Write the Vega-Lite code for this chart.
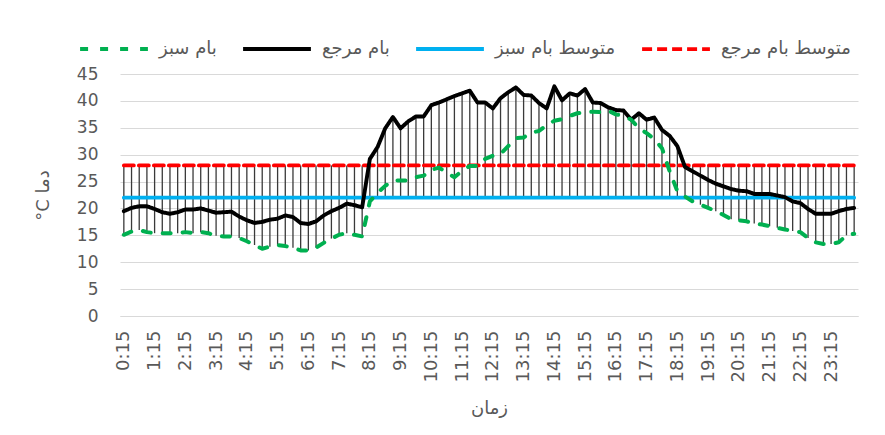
{
  "$schema": "https://vega.github.io/schema/vega-lite/v6.json",
  "width": 738,
  "height": 242,
  "autosize": {"type": "none"},
  "padding": {"left": 120, "top": 74, "right": 27, "bottom": 119},
  "background": "white",
  "config": {"view": {"stroke": null}, "font": "DejaVu Sans"},
  "data": {"values": [
    {"t":"0:15","g":15.1,"b":19.5,"gm":22,"bm":28},
    {"t":"0:30","g":15.7,"b":20.1,"gm":22,"bm":28},
    {"t":"0:45","g":16.0,"b":20.4,"gm":22,"bm":28},
    {"t":"1:00","g":15.6,"b":20.4,"gm":22,"bm":28},
    {"t":"1:15","g":15.4,"b":19.9,"gm":22,"bm":28},
    {"t":"1:30","g":15.4,"b":19.3,"gm":22,"bm":28},
    {"t":"1:45","g":15.4,"b":19.0,"gm":22,"bm":28},
    {"t":"2:00","g":15.4,"b":19.3,"gm":22,"bm":28},
    {"t":"2:15","g":15.6,"b":19.8,"gm":22,"bm":28},
    {"t":"2:30","g":15.4,"b":19.8,"gm":22,"bm":28},
    {"t":"2:45","g":15.6,"b":20.0,"gm":22,"bm":28},
    {"t":"3:00","g":15.4,"b":19.6,"gm":22,"bm":28},
    {"t":"3:15","g":14.9,"b":19.2,"gm":22,"bm":28},
    {"t":"3:30","g":14.8,"b":19.3,"gm":22,"bm":28},
    {"t":"3:45","g":14.8,"b":19.4,"gm":22,"bm":28},
    {"t":"4:00","g":14.5,"b":18.5,"gm":22,"bm":28},
    {"t":"4:15","g":13.9,"b":17.8,"gm":22,"bm":28},
    {"t":"4:30","g":13.2,"b":17.3,"gm":22,"bm":28},
    {"t":"4:45","g":12.5,"b":17.5,"gm":22,"bm":28},
    {"t":"5:00","g":12.9,"b":17.9,"gm":22,"bm":28},
    {"t":"5:15","g":13.2,"b":18.1,"gm":22,"bm":28},
    {"t":"5:30","g":13.0,"b":18.7,"gm":22,"bm":28},
    {"t":"5:45","g":12.7,"b":18.4,"gm":22,"bm":28},
    {"t":"6:00","g":12.2,"b":17.3,"gm":22,"bm":28},
    {"t":"6:15","g":12.2,"b":17.1,"gm":22,"bm":28},
    {"t":"6:30","g":12.7,"b":17.6,"gm":22,"bm":28},
    {"t":"6:45","g":13.6,"b":18.7,"gm":22,"bm":28},
    {"t":"7:00","g":14.4,"b":19.5,"gm":22,"bm":28},
    {"t":"7:15","g":15.1,"b":20.1,"gm":22,"bm":28},
    {"t":"7:30","g":15.4,"b":20.9,"gm":22,"bm":28},
    {"t":"7:45","g":15.1,"b":20.6,"gm":22,"bm":28},
    {"t":"8:00","g":14.8,"b":20.2,"gm":22,"bm":28},
    {"t":"8:15","g":21.3,"b":29.2,"gm":22,"bm":28},
    {"t":"8:30","g":22.9,"b":31.4,"gm":22,"bm":28},
    {"t":"8:45","g":24.2,"b":34.9,"gm":22,"bm":28},
    {"t":"9:00","g":25.2,"b":37.0,"gm":22,"bm":28},
    {"t":"9:15","g":25.2,"b":34.9,"gm":22,"bm":28},
    {"t":"9:30","g":25.2,"b":36.2,"gm":22,"bm":28},
    {"t":"9:45","g":25.8,"b":37.1,"gm":22,"bm":28},
    {"t":"10:00","g":26.1,"b":37.1,"gm":22,"bm":28},
    {"t":"10:15","g":27.2,"b":39.2,"gm":22,"bm":28},
    {"t":"10:30","g":27.6,"b":39.7,"gm":22,"bm":28},
    {"t":"10:45","g":26.6,"b":40.3,"gm":22,"bm":28},
    {"t":"11:00","g":25.8,"b":40.9,"gm":22,"bm":28},
    {"t":"11:15","g":27.0,"b":41.4,"gm":22,"bm":28},
    {"t":"11:30","g":27.9,"b":41.9,"gm":22,"bm":28},
    {"t":"11:45","g":27.9,"b":39.7,"gm":22,"bm":28},
    {"t":"12:00","g":29.2,"b":39.7,"gm":22,"bm":28},
    {"t":"12:15","g":29.8,"b":38.6,"gm":22,"bm":28},
    {"t":"12:30","g":30.1,"b":40.5,"gm":22,"bm":28},
    {"t":"12:45","g":31.6,"b":41.6,"gm":22,"bm":28},
    {"t":"13:00","g":33.1,"b":42.5,"gm":22,"bm":28},
    {"t":"13:15","g":33.2,"b":41.1,"gm":22,"bm":28},
    {"t":"13:30","g":34.1,"b":41.0,"gm":22,"bm":28},
    {"t":"13:45","g":34.4,"b":39.6,"gm":22,"bm":28},
    {"t":"14:00","g":35.5,"b":38.6,"gm":22,"bm":28},
    {"t":"14:15","g":36.3,"b":42.7,"gm":22,"bm":28},
    {"t":"14:30","g":36.6,"b":40.1,"gm":22,"bm":28},
    {"t":"14:45","g":37.2,"b":41.4,"gm":22,"bm":28},
    {"t":"15:00","g":37.7,"b":41.0,"gm":22,"bm":28},
    {"t":"15:15","g":37.9,"b":42.2,"gm":22,"bm":28},
    {"t":"15:30","g":38.0,"b":39.7,"gm":22,"bm":28},
    {"t":"15:45","g":37.9,"b":39.6,"gm":22,"bm":28},
    {"t":"16:00","g":38.2,"b":38.8,"gm":22,"bm":28},
    {"t":"16:15","g":37.5,"b":38.3,"gm":22,"bm":28},
    {"t":"16:30","g":37.2,"b":38.2,"gm":22,"bm":28},
    {"t":"16:45","g":36.5,"b":36.5,"gm":22,"bm":28},
    {"t":"17:00","g":34.9,"b":37.7,"gm":22,"bm":28},
    {"t":"17:15","g":34.0,"b":36.5,"gm":22,"bm":28},
    {"t":"17:30","g":32.9,"b":36.9,"gm":22,"bm":28},
    {"t":"17:45","g":31.2,"b":34.6,"gm":22,"bm":28},
    {"t":"18:00","g":26.9,"b":33.5,"gm":22,"bm":28},
    {"t":"18:15","g":23.2,"b":31.6,"gm":22,"bm":28},
    {"t":"18:30","g":22.2,"b":27.7,"gm":22,"bm":28},
    {"t":"18:45","g":21.3,"b":26.9,"gm":22,"bm":28},
    {"t":"19:00","g":20.7,"b":26.1,"gm":22,"bm":28},
    {"t":"19:15","g":20.1,"b":25.3,"gm":22,"bm":28},
    {"t":"19:30","g":19.5,"b":24.6,"gm":22,"bm":28},
    {"t":"19:45","g":18.8,"b":24.1,"gm":22,"bm":28},
    {"t":"20:00","g":18.0,"b":23.6,"gm":22,"bm":28},
    {"t":"20:15","g":17.8,"b":23.3,"gm":22,"bm":28},
    {"t":"20:30","g":17.6,"b":23.2,"gm":22,"bm":28},
    {"t":"20:45","g":17.2,"b":22.7,"gm":22,"bm":28},
    {"t":"21:00","g":17.0,"b":22.7,"gm":22,"bm":28},
    {"t":"21:15","g":16.7,"b":22.7,"gm":22,"bm":28},
    {"t":"21:30","g":16.4,"b":22.4,"gm":22,"bm":28},
    {"t":"21:45","g":16.1,"b":22.1,"gm":22,"bm":28},
    {"t":"22:00","g":15.8,"b":21.3,"gm":22,"bm":28},
    {"t":"22:15","g":15.6,"b":21.0,"gm":22,"bm":28},
    {"t":"22:30","g":14.5,"b":19.9,"gm":22,"bm":28},
    {"t":"22:45","g":13.7,"b":19.0,"gm":22,"bm":28},
    {"t":"23:00","g":13.4,"b":19.0,"gm":22,"bm":28},
    {"t":"23:15","g":13.4,"b":19.0,"gm":22,"bm":28},
    {"t":"23:30","g":13.7,"b":19.5,"gm":22,"bm":28},
    {"t":"23:45","g":15.0,"b":19.9,"gm":22,"bm":28},
    {"t":"24:00","g":15.3,"b":20.1,"gm":22,"bm":28}
  ]},
  "transform": [{"fold": ["bm", "gm", "b", "g"], "as": ["key", "v"]}],
  "encoding": {
    "x": {
      "field": "t", "type": "ordinal", "sort": null,
      "scale": {"type": "point", "padding": 0.5},
      "axis": {
        "values": ["0:15","1:15","2:15","3:15","4:15","5:15","6:15","7:15","8:15","9:15","10:15","11:15","12:15","13:15","14:15","15:15","16:15","17:15","18:15","19:15","20:15","21:15","22:15","23:15"],
        "labelAngle": 270, "labelFontSize": 18, "labelColor": "#595959", "labelPadding": 14, "labelOverlap": false,
        "ticks": false, "domainColor": "#D9D9D9", "domainWidth": 1, "grid": false,
        "title": "زمان", "titleFontSize": 18, "titleColor": "#595959", "titleFontWeight": "normal", "titlePadding": 18
      }
    }
  },
  "layer": [
    {
      "mark": {"type": "rule", "stroke": "#3A3A3A", "strokeWidth": 1.3},
      "encoding": {
        "y": {
          "aggregate": "max", "field": "v", "type": "quantitative",
          "scale": {"domain": [0, 45], "nice": false, "zero": true},
          "axis": {
            "values": [0,5,10,15,20,25,30,35,40,45],
            "labelFontSize": 17, "labelColor": "#595959", "labelPadding": 22, "labelOverlap": false,
            "domain": false, "ticks": false, "gridColor": "#D9D9D9", "gridWidth": 1,
            "title": "°C دما", "titleFontSize": 18, "titleColor": "#595959", "titleFontWeight": "normal", "titlePadding": 24
          }
        },
        "y2": {"aggregate": "min", "field": "v"}
      }
    },
    {
      "mark": {"type": "line", "strokeCap": "round", "strokeJoin": "round"},
      "encoding": {
        "y": {
          "field": "v", "type": "quantitative",
          "axis": {
            "values": [0,5,10,15,20,25,30,35,40,45],
            "labelFontSize": 17, "labelColor": "#595959", "labelPadding": 22, "labelOverlap": false,
            "domain": false, "ticks": false, "gridColor": "#D9D9D9", "gridWidth": 1,
            "title": "°C دما", "titleFontSize": 18, "titleColor": "#595959", "titleFontWeight": "normal", "titlePadding": 24
          }
        },
        "color": {
          "field": "key", "type": "nominal",
          "scale": {"domain": ["g", "b", "gm", "bm"], "range": ["#00B050", "#000000", "#00B0F0", "#FF0000"]},
          "legend": {
            "title": null, "orient": "none", "direction": "horizontal", "legendX": -42, "legendY": -61,
            "symbolType": "stroke", "symbolSize": 4600, "symbolStrokeWidth": 3.5,
            "labelFontSize": 18, "labelColor": "#595959", "labelOffset": 9, "columnPadding": 18,
            "labelExpr": "datum.value == 'g' ? 'بام سبز' : datum.value == 'b' ? 'بام مرجع' : datum.value == 'gm' ? 'متوسط بام سبز' : 'متوسط بام مرجع'"
          }
        },
        "strokeDash": {
          "field": "key", "type": "nominal",
          "scale": {"domain": ["g", "b", "gm", "bm"], "range": [[8, 12], [1, 0], [1, 0], [10, 5]]},
          "legend": {
            "title": null, "orient": "none", "direction": "horizontal", "legendX": -42, "legendY": -61,
            "symbolType": "stroke", "symbolSize": 4600, "symbolStrokeWidth": 3.5,
            "labelFontSize": 18, "labelColor": "#595959", "labelOffset": 9, "columnPadding": 18,
            "labelExpr": "datum.value == 'g' ? 'بام سبز' : datum.value == 'b' ? 'بام مرجع' : datum.value == 'gm' ? 'متوسط بام سبز' : 'متوسط بام مرجع'"
          }
        },
        "strokeWidth": {
          "field": "key", "type": "nominal",
          "scale": {"domain": ["g", "b", "gm", "bm"], "range": [4, 3.75, 3, 3]},
          "legend": null
        },
        "order": {"value": null}
      }
    }
  ]
}
